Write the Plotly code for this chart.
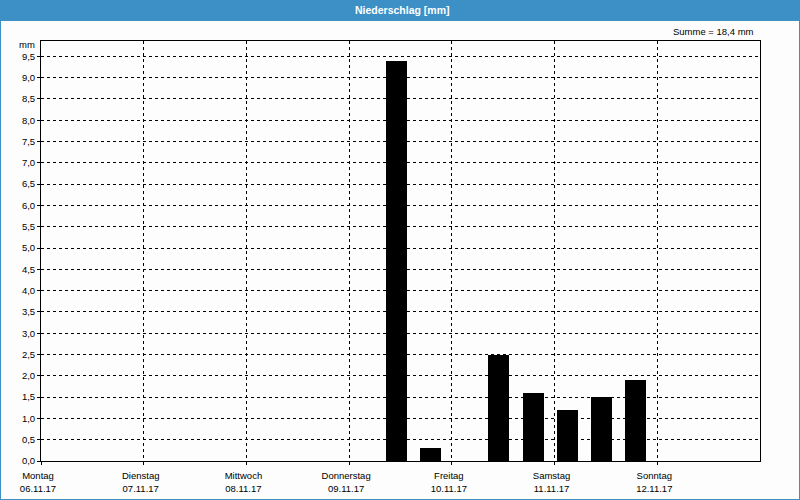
import plotly.graph_objects as go

# ---- data ----
bar_times = ["2017-11-09 11:00", "2017-11-09 19:00", "2017-11-10 03:00",
             "2017-11-10 11:00", "2017-11-10 19:00", "2017-11-11 03:00",
             "2017-11-11 11:00", "2017-11-11 19:00"]
precip_mm = [9.4, 0.3, 0.0, 2.5, 1.6, 1.2, 1.5, 1.9]
day_ticks = ["2017-11-06", "2017-11-07", "2017-11-08", "2017-11-09",
             "2017-11-10", "2017-11-11", "2017-11-12"]
day_names = ["Montag", "Dienstag", "Mittwoch", "Donnerstag", "Freitag", "Samstag", "Sonntag"]
day_dates = ["06.11.17", "07.11.17", "08.11.17", "09.11.17", "10.11.17", "11.11.17", "12.11.17"]
title_text = "Niederschlag [mm]"
sum_text = "Summe = 18,4 mm"
unit_text = "mm"

# ---- layout geometry (pixels) ----
W, H = 800, 500
ML, MR, MT, MB = 41, 40, 41, 39
PW, PH = W - ML - MR, H - MT - MB


def px(x):
    return (x - ML) / PW


def py(y):
    return (H - MB - y) / PH


FONT = "Liberation Sans"
FS = 9.5
BLUE = "#3c90c5"

fig = go.Figure()
fig.add_trace(go.Bar(
    x=bar_times, y=precip_mm,
    width=4.9 * 3600 * 1000,
    marker=dict(color="#000000", line=dict(width=0)),
    xaxis="x", yaxis="y", hoverinfo="skip",
))
# invisible trace to activate the second (date label) axis
fig.add_trace(go.Scatter(x=[day_ticks[0]], y=[0], xaxis="x2", yaxis="y",
                         mode="markers", marker=dict(opacity=0), hoverinfo="skip",
                         showlegend=False))

xcommon = dict(
    type="date",
    range=["2017-11-06", "2017-11-13"],
    tickmode="array",
    tickvals=day_ticks,
    tickfont=dict(family=FONT, size=FS, color="#000"),
    ticklabelshift=-3,
    automargin=False,
)

fig.update_layout(
    width=W, height=H,
    margin=dict(l=ML, r=MR, t=MT, b=MB, pad=0, autoexpand=False),
    paper_bgcolor="#fcfdfc",
    plot_bgcolor="#fcfdfc",
    showlegend=False,
    separators=",.",
    bargap=0,
    xaxis=dict(
        **xcommon,
        ticktext=day_names,
        showgrid=True, gridcolor="#000", gridwidth=1, griddash="3px,3px",
        showline=True, linecolor="#000", linewidth=1, mirror=True,
        ticks="outside", ticklen=3, tickcolor="#000",
        zeroline=False,
        ticklabelstandoff=3,
    ),
    xaxis2=dict(
        **xcommon,
        ticktext=day_dates,
        overlaying="x", matches="x", side="bottom", anchor="y",
        showgrid=False, showline=False, ticks="", zeroline=False,
        ticklabelstandoff=20,
    ),
    yaxis=dict(
        range=[0, 9.86],
        tickmode="linear", tick0=0, dtick=0.5,
        tickformat=".1f",
        tickfont=dict(family=FONT, size=FS, color="#000"),
        showgrid=True, gridcolor="#000", gridwidth=1, griddash="3px,3px",
        showline=True, linecolor="#000", linewidth=1, mirror=True,
        ticks="outside", ticklen=3, tickcolor="#000",
        zeroline=False, automargin=False,
    ),
    shapes=[
        dict(type="rect", xref="paper", yref="paper", layer="below",
             x0=px(0), x1=px(W), y0=py(0), y1=py(21),
             fillcolor=BLUE, line=dict(width=0)),
        dict(type="rect", xref="paper", yref="paper", layer="above",
             x0=px(0), x1=px(W), y0=py(0), y1=py(H),
             fillcolor="rgba(0,0,0,0)", line=dict(color=BLUE, width=2)),
    ],
    annotations=[
        dict(text=title_text, xref="paper", yref="paper", x=px(402), y=py(10),
             xanchor="center", yanchor="middle", showarrow=False,
             font=dict(family=FONT, size=10.5, color="#ffffff", weight="bold")),
        dict(text=sum_text, xref="paper", yref="paper", x=px(756), y=py(31),
             xanchor="right", yanchor="middle", showarrow=False,
             font=dict(family=FONT, size=FS, color="#000")),
        dict(text=unit_text, xref="paper", yref="paper", x=px(37), y=py(45),
             xanchor="right", yanchor="middle", showarrow=False,
             font=dict(family=FONT, size=FS, color="#000")),
    ],
)

fig.write_html("out.html")
